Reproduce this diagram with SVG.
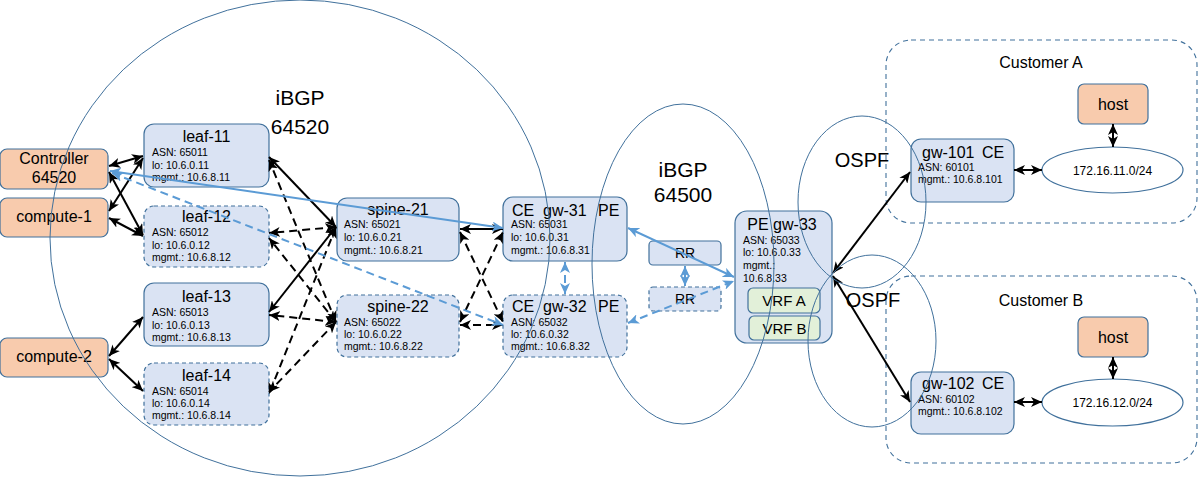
<svg xmlns="http://www.w3.org/2000/svg" width="1198" height="477" viewBox="0 0 1198 477">
<style>
text{font-family:"Liberation Sans",Arial,sans-serif;fill:#000}
.n{fill:#dae3f3;stroke:#41719c;stroke-width:1.2}
.nd{fill:#dae3f3;stroke:#41719c;stroke-width:1.2;stroke-dasharray:4,3}
.o{fill:#f8cbad;stroke:#41719c;stroke-width:1.2}
.v{fill:#e2f0d9;stroke:#41719c;stroke-width:1.2}
.cust{fill:none;stroke:#41719c;stroke-width:1.1;stroke-dasharray:5,4}
.reg{fill:none;stroke:#41719c;stroke-width:1}
.net{fill:#fff;stroke:#41719c;stroke-width:1.2}
.t{font-size:16px;text-anchor:middle}
.s{font-size:10.5px}
.big{font-size:21px;text-anchor:middle}
.k{stroke:#000;stroke-width:2;fill:none;marker-start:url(#ka);marker-end:url(#ka)}
.kd{stroke:#000;stroke-width:2;fill:none;stroke-dasharray:8,5;marker-start:url(#ka);marker-end:url(#ka)}
.b{stroke:#5b9bd5;stroke-width:2;fill:none;marker-start:url(#ba);marker-end:url(#ba)}
.bd{stroke:#5b9bd5;stroke-width:2;fill:none;stroke-dasharray:8,5;marker-start:url(#ba);marker-end:url(#ba)}
</style>
<defs>
<marker id="ka" markerUnits="userSpaceOnUse" markerWidth="12" markerHeight="10" refX="11" refY="5" orient="auto-start-reverse" viewBox="0 0 12 10"><path d="M0,0 L11,5 L0,10 L3,5 z" fill="#000"/></marker>
<marker id="ba" markerUnits="userSpaceOnUse" markerWidth="12" markerHeight="10" refX="11" refY="5" orient="auto-start-reverse" viewBox="0 0 12 10"><path d="M0,0 L11,5 L0,10 L3,5 z" fill="#5b9bd5"/></marker>
</defs>
<rect width="1198" height="477" fill="#fff"/>
<g id="customer-a"><rect class="cust" x="886" y="40" width="311" height="183" rx="25"/><text x="1041" y="68" class="t">Customer A</text></g>
<g id="customer-b"><rect class="cust" x="886" y="276" width="311" height="187" rx="25"/><text x="1041" y="306" class="t">Customer B</text></g>

<g id="controller"><rect class="o" x="0" y="149" width="108" height="40" rx="7"/><text x="54" y="164" class="t">Controller</text><text x="54" y="183" class="t">64520</text></g>
<g id="compute-1"><rect class="o" x="0" y="198" width="108" height="39" rx="7"/><text x="54" y="222" class="t">compute-1</text></g>
<g id="compute-2"><rect class="o" x="0" y="338" width="108" height="39" rx="7"/><text x="54" y="362" class="t">compute-2</text></g>

<g id="leaf-11"><rect class="n" x="144" y="124" width="125" height="63" rx="10"/><text x="206.5" y="142" class="t">leaf-11</text><text x="152" y="156" class="s">ASN: 65011</text><text x="152" y="168.5" class="s">lo: 10.6.0.11</text><text x="152" y="181" class="s">mgmt.: 10.6.8.11</text></g>
<g id="leaf-12"><rect class="nd" x="144" y="206" width="125" height="61" rx="10"/><text x="206.5" y="222" class="t">leaf-12</text><text x="152" y="236" class="s">ASN: 65012</text><text x="152" y="248.5" class="s">lo: 10.6.0.12</text><text x="152" y="261" class="s">mgmt.: 10.6.8.12</text></g>
<g id="leaf-13"><rect class="n" x="144" y="283" width="125" height="63" rx="10"/><text x="206.5" y="302" class="t">leaf-13</text><text x="152" y="316" class="s">ASN: 65013</text><text x="152" y="328.5" class="s">lo: 10.6.0.13</text><text x="152" y="341" class="s">mgmt.: 10.6.8.13</text></g>
<g id="leaf-14"><rect class="nd" x="144" y="363" width="125" height="62" rx="10"/><text x="206.5" y="381" class="t">leaf-14</text><text x="152" y="395" class="s">ASN: 65014</text><text x="152" y="407" class="s">lo: 10.6.0.14</text><text x="152" y="419" class="s">mgmt.: 10.6.8.14</text></g>

<g id="spine-21"><rect class="n" x="337" y="198" width="122" height="63" rx="10"/><text x="398" y="215" class="t">spine-21</text><text x="344" y="228" class="s">ASN: 65021</text><text x="344" y="241" class="s">lo: 10.6.0.21</text><text x="344" y="254" class="s">mgmt.: 10.6.8.21</text></g>
<g id="spine-22"><rect class="nd" x="337" y="295" width="122" height="62" rx="10"/><text x="398" y="312" class="t">spine-22</text><text x="344" y="326" class="s">ASN: 65022</text><text x="344" y="338" class="s">lo: 10.6.0.22</text><text x="344" y="350" class="s">mgmt.: 10.6.8.22</text></g>

<g id="gw-31"><rect class="n" x="503" y="197" width="124" height="64" rx="10"/><text y="216" style="font-size:16px"><tspan x="512">CE</tspan><tspan x="543">gw-31</tspan><tspan x="598">PE</tspan></text><text x="511" y="228" class="s">ASN: 65031</text><text x="511" y="241" class="s">lo: 10.6.0.31</text><text x="511" y="254" class="s">mgmt.: 10.6.8.31</text></g>
<g id="gw-32"><rect class="nd" x="503" y="295" width="124" height="62" rx="10"/><text y="312" style="font-size:16px"><tspan x="512">CE</tspan><tspan x="543">gw-32</tspan><tspan x="598">PE</tspan></text><text x="511" y="326" class="s">ASN: 65032</text><text x="511" y="338" class="s">lo: 10.6.0.32</text><text x="511" y="350" class="s">mgmt.: 10.6.8.32</text></g>

<g id="rr-1"><rect class="n" x="649" y="241" width="72" height="24" rx="4"/><text x="685" y="258" class="t" style="font-size:14px">RR</text></g>
<g id="rr-2"><rect class="nd" x="649" y="287" width="72" height="24" rx="4"/><text x="685" y="304" class="t" style="font-size:14px">RR</text></g>

<g id="gw-33"><rect class="n" x="735" y="211" width="97" height="132" rx="12"/><text x="782" y="230" class="t">PE gw-33</text><text x="743" y="244" class="s">ASN: 65033</text><text x="743" y="256" class="s">lo: 10.6.0.33</text><text x="743" y="269" class="s">mgmt.:</text><text x="743" y="282" class="s">10.6.8.33</text>
<g id="vrf-a"><rect class="v" x="748" y="288" width="72" height="25" rx="5"/><text x="784" y="306" class="t" style="font-size:15px">VRF A</text></g>
<g id="vrf-b"><rect class="v" x="749" y="316" width="71" height="24" rx="5"/><text x="784.5" y="334" class="t" style="font-size:15px">VRF B</text></g></g>

<g id="gw-101"><rect class="n" x="911" y="139" width="103" height="63" rx="10"/><text y="158" style="font-size:16px"><tspan x="922">gw-101</tspan><tspan x="982">CE</tspan></text><text x="918" y="171" class="s">ASN: 60101</text><text x="918" y="183" class="s">mgmt.: 10.6.8.101</text></g>
<g id="gw-102"><rect class="n" x="911" y="372" width="103" height="62" rx="10"/><text y="389" style="font-size:16px"><tspan x="922">gw-102</tspan><tspan x="982">CE</tspan></text><text x="918" y="403" class="s">ASN: 60102</text><text x="918" y="415" class="s">mgmt.: 10.6.8.102</text></g>

<g id="net-a"><ellipse class="net" cx="1112.5" cy="170" rx="70.5" ry="23"/><text x="1112.5" y="174.5" class="t" style="font-size:12px">172.16.11.0/24</text></g>
<g id="net-b"><ellipse class="net" cx="1112.5" cy="402.5" rx="70.5" ry="23.5"/><text x="1112.5" y="407" class="t" style="font-size:12px">172.16.12.0/24</text></g>
<g id="host-a"><rect class="o" x="1078" y="84" width="70" height="40" rx="6"/><text x="1113" y="110" class="t">host</text></g>
<g id="host-b"><rect class="o" x="1078" y="317" width="70" height="40" rx="6"/><text x="1113" y="343" class="t">host</text></g>

<g id="connectors">
<line class="k" x1="109" y1="166" x2="143" y2="156"/>
<line class="k" x1="109" y1="172" x2="143" y2="235"/>
<line class="k" x1="109" y1="211" x2="143" y2="158"/>
<line class="k" x1="109" y1="218" x2="143" y2="236"/>
<line class="k" x1="109" y1="356" x2="143" y2="317"/>
<line class="k" x1="109" y1="359" x2="143" y2="391"/>
<line class="k" x1="336" y1="227" x2="269" y2="157"/>
<line class="k" x1="336" y1="227" x2="269" y2="312"/>
<line class="kd" x1="336" y1="227" x2="269" y2="233"/>
<line class="kd" x1="336" y1="227" x2="269" y2="394"/>
<line class="kd" x1="336" y1="322" x2="269" y2="160"/>
<line class="kd" x1="336" y1="322" x2="269" y2="238"/>
<line class="kd" x1="336" y1="322" x2="269" y2="315"/>
<line class="kd" x1="336" y1="322" x2="269" y2="392"/>
<line class="k" x1="460" y1="229" x2="503" y2="229"/>
<line class="kd" x1="460" y1="232" x2="503" y2="322"/>
<line class="kd" x1="460" y1="322" x2="503" y2="232"/>
<line class="kd" x1="460" y1="325" x2="503" y2="325"/>
<line class="k" x1="833" y1="273" x2="910" y2="172"/>
<line class="k" x1="833" y1="276" x2="910" y2="402"/>
<line class="k" x1="1014" y1="170" x2="1042" y2="170"/>
<line class="k" x1="1014" y1="402" x2="1042" y2="402"/>
<line class="k" x1="1113" y1="124" x2="1113" y2="147"/>
<line class="k" x1="1113" y1="357" x2="1113" y2="379"/>
<line class="b" x1="110" y1="171" x2="503" y2="228"/>
<line class="bd" x1="112" y1="173" x2="503" y2="325"/>
<line class="b" x1="628" y1="228" x2="734" y2="277"/>
<line class="bd" x1="628" y1="323" x2="734" y2="281"/>
<line class="bd" x1="565" y1="262" x2="565" y2="294"/>
<line class="b" x1="685" y1="266" x2="685" y2="286"/>
</g>

<g id="regions">
<ellipse class="reg" cx="300" cy="238" rx="250" ry="238"/>
<ellipse class="reg" cx="683" cy="264" rx="91" ry="160"/>
<ellipse class="reg" cx="862" cy="202" rx="64" ry="86"/>
<ellipse class="reg" cx="872" cy="341" rx="64" ry="86"/>
<text x="300" y="105" class="big">iBGP</text><text x="300" y="134" class="big">64520</text>
<text x="683" y="177" class="big">iBGP</text><text x="683" y="202" class="big">64500</text>
<text x="862" y="167" class="big" style="font-size:20px">OSPF</text>
<text x="873" y="307" class="big" style="font-size:20px">OSPF</text>
</g>
</svg>
